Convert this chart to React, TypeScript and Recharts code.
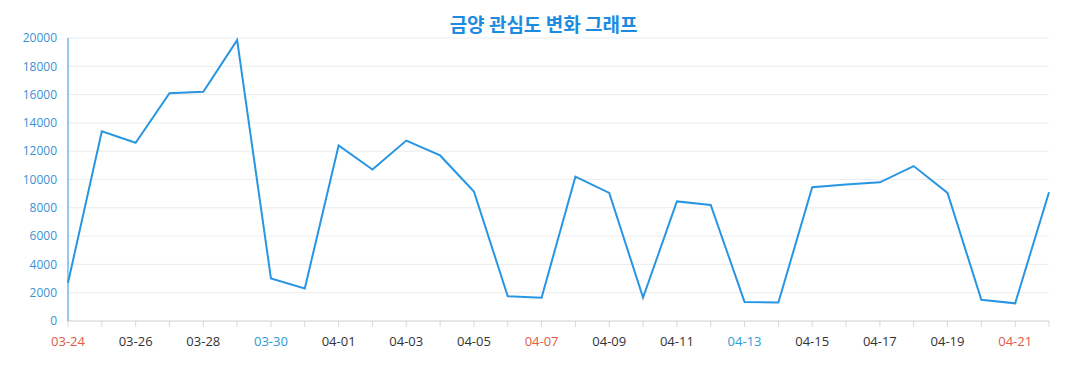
import React from 'react';
import { LineChart, Line, XAxis, YAxis, CartesianGrid } from 'recharts';

const dates = [
  '03-24', '03-25', '03-26', '03-27', '03-28', '03-29', '03-30', '03-31',
  '04-01', '04-02', '04-03', '04-04', '04-05', '04-06', '04-07', '04-08',
  '04-09', '04-10', '04-11', '04-12', '04-13', '04-14', '04-15', '04-16',
  '04-17', '04-18', '04-19', '04-20', '04-21', '04-22',
];

const interest = [
  2700, 13400, 12600, 16100, 16200, 19850, 3000, 2300,
  12400, 10700, 12750, 11700, 9150, 1750, 1650, 10200,
  9050, 1650, 8450, 8200, 1350, 1300, 9450, 9650,
  9800, 10950, 9050, 1500, 1250, 9100,
];

const yTicks = [0, 2000, 4000, 6000, 8000, 10000, 12000, 14000, 16000, 18000, 20000];

// weekend colouring of the date labels
const sundays = ['03-24', '03-31', '04-07', '04-14', '04-21'];
const saturdays = ['03-30', '04-06', '04-13', '04-20'];

const data = dates.map((d, i) => ({ date: d, value: interest[i] }));

function DateTick(props: any) {
  const { x, y, payload, index } = props;
  if (index % 2 !== 0) return null;
  let fill = '#333333';
  if (sundays.includes(payload.value)) fill = '#e05a45';
  if (saturdays.includes(payload.value)) fill = '#2e9ad6';
  return (
    <text x={x} y={y} dy="0.71em" textAnchor="middle" fill={fill} fontSize={13} fontFamily="'Open Sans', sans-serif">
      {payload.value}
    </text>
  );
}

export default function App() {
  return (
    <div style={{ position: 'relative', width: 1061, height: 374 }}>
      <div
        style={{
          position: 'absolute',
          top: 2,
          left: 45,
          width: 981,
          textAlign: 'center',
          fontFamily: "'Noto Sans CJK KR', sans-serif",
          fontWeight: 700,
          fontSize: 19,
          color: '#1d8be0',
        }}
      >
        금양 관심도 변화 그래프
      </div>
      <LineChart width={1061} height={374} data={data} margin={{ top: 30, right: 20, left: 0, bottom: 31 }}>
        <CartesianGrid vertical={false} stroke="#ececec" />
        <XAxis
          dataKey="date"
          interval={0}
          tick={<DateTick />}
          tickMargin={10}
          height={30}
          stroke="#d9d9d9"
          tickLine={{ stroke: '#d9d9d9' }}
        />
        <YAxis
          domain={[0, 20000]}
          ticks={yTicks}
          width={60}
          tickLine={false}
          tickMargin={5}
          axisLine={{ stroke: '#2b95de' }}
          tick={{ fill: '#3a92d4', fontSize: 12, fontFamily: "'Open Sans', sans-serif" }}
        />
        <Line
          type="linear"
          dataKey="value"
          stroke="#2896e2"
          strokeWidth={2}
          dot={false}
          isAnimationActive={false}
        />
      </LineChart>
    </div>
  );
}
